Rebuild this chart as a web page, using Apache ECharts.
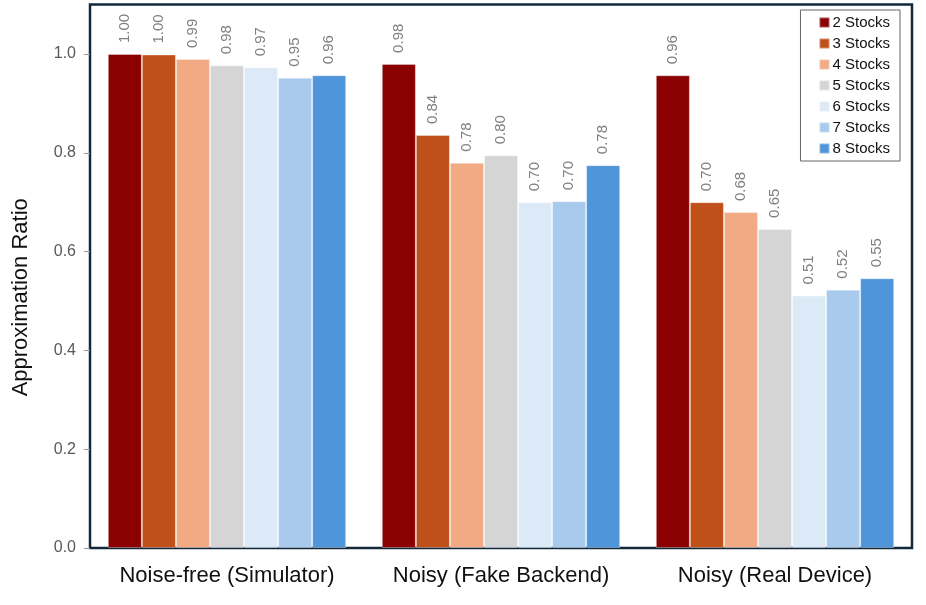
<!DOCTYPE html>
<html>
<head>
<meta charset="utf-8">
<script src="https://cdn.jsdelivr.net/npm/echarts@6/dist/echarts.min.js"></script>
<style>html,body{margin:0;padding:0;background:#fff;}#c{width:926px;height:605px;}</style>
</head>
<body>
<div id="c"></div>
<script>
const categories = ['Noise-free (Simulator)', 'Noisy (Fake Backend)', 'Noisy (Real Device)'];
const seriesNames = ['2 Stocks', '3 Stocks', '4 Stocks', '5 Stocks', '6 Stocks', '7 Stocks', '8 Stocks'];
const s2 = [1.000, 0.980, 0.957];
const s3 = [0.999, 0.836, 0.700];
const s4 = [0.990, 0.780, 0.680];
const s5 = [0.977, 0.795, 0.646];
const s6 = [0.973, 0.700, 0.511];
const s7 = [0.952, 0.702, 0.523];
const s8 = [0.957, 0.775, 0.546];
const yTicks = [0.0, 0.2, 0.4, 0.6, 0.8, 1.0];
const colors = ['#8B0000', '#C0501A', '#F2AA84', '#D5D5D5', '#DCE9F6', '#A8CAEC', '#4F95DA'];
const values = [s2, s3, s4, s5, s6, s7, s8];
const FONT = 'Liberation Sans, Arial, sans-serif';

const chart = echarts.init(document.getElementById('c'));
chart.setOption({
  animation: false,
  backgroundColor: '#fff',
  grid: {
    left: 90, right: 14, top: 4.6, bottom: 57,
    show: true, borderColor: '#10283A', borderWidth: 2.5, backgroundColor: '#fff'
  },
  legend: {
    orient: 'vertical', right: 26, top: 10,
    icon: 'rect',
    itemWidth: 10, itemHeight: 10, itemGap: 6,
    borderColor: '#666', borderWidth: 1, backgroundColor: '#fff',
    padding: [5, 10, 5, 18],
    textStyle: { fontSize: 15, color: '#111', fontFamily: FONT, padding: [0, 0, 0, -2] },
    data: seriesNames
  },
  xAxis: {
    type: 'category', data: categories,
    axisLine: { show: false }, axisTick: { show: false },
    axisLabel: { interval: 0, hideOverlap: false, fontSize: 22, color: '#111', margin: 17, fontFamily: FONT }
  },
  yAxis: {
    type: 'value', min: 0, max: 1.1, interval: 0.2,
    name: 'Approximation Ratio', nameLocation: 'middle', nameGap: 58,
    nameTextStyle: { fontSize: 22, color: '#111', fontFamily: FONT, padding: [0, 42, 0, 0] },
    axisLine: { show: false },
    axisTick: { show: true, length: 6, lineStyle: { color: '#999' }, customValues: yTicks },
    splitLine: { show: false },
    axisLabel: {
      fontSize: 16, color: '#595959', margin: 14, fontFamily: FONT,
      customValues: yTicks,
      formatter: v => v.toFixed(1)
    }
  },
  series: seriesNames.map((n, i) => ({
    name: n, type: 'bar', data: values[i],
    barGap: '0%', barCategoryGap: '13%',
    itemStyle: { color: colors[i], borderColor: 'rgba(255,255,255,0.35)', borderWidth: 1 },
    label: {
      show: true, position: 'top', rotate: 90, distance: 11,
      align: 'left', verticalAlign: 'middle',
      fontSize: 15, color: '#808080', fontFamily: FONT,
      formatter: p => p.value.toFixed(2)
    }
  }))
});
</script>
</body>
</html>
